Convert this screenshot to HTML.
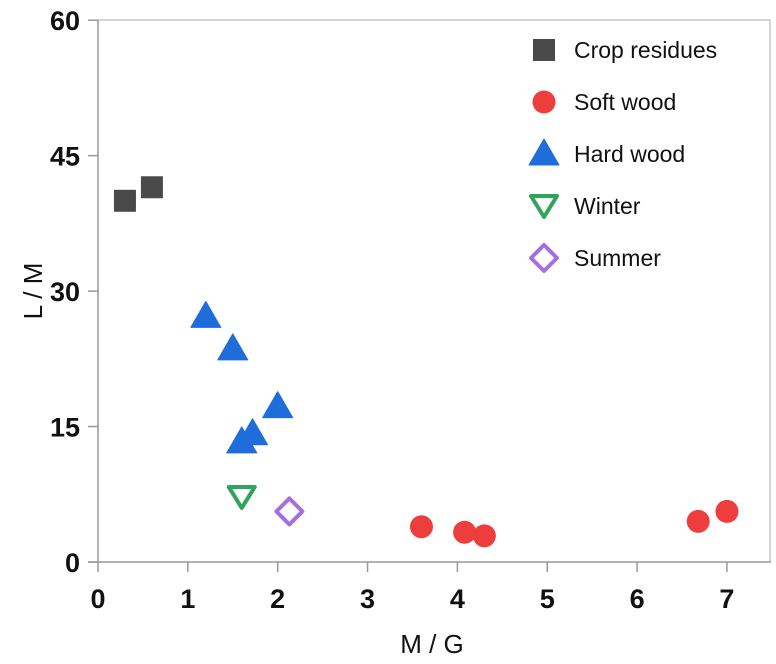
<!DOCTYPE html>
<html><head><meta charset="utf-8"><style>
html,body{margin:0;padding:0;background:#fff;}
svg{display:block;font-family:"Liberation Sans",Arial,sans-serif;}
</style></head><body>
<svg id="chart" width="776" height="664"></svg>
<script>
const xTicks=[0,1,2,3,4,5,6,7];
const yTicks=[0,15,30,45,60];
const cropX=[0.3,0.6], cropY=[40,41.5];
const softX=[3.6,4.08,4.3,6.68,7.0], softY=[3.9,3.3,2.9,4.5,5.6];
const hardX=[1.2,1.5,2.0,1.72,1.6], hardY=[27.2,23.6,17.2,14.2,13.3];
const winterX=[1.6], winterY=[7.2];
const summerX=[2.13], summerY=[5.6];
const legendLabels=["Crop residues","Soft wood","Hard wood","Winter","Summer"];

const NS="http://www.w3.org/2000/svg";
const svg=document.getElementById('chart');
const X0=98,XS=89.85,Y0=562,YS=9.03;
const sx=v=>X0+v*XS, sy=v=>Y0-v*YS;
function mk(t,a,p){const e=document.createElementNS(NS,t);for(const k in a)e.setAttribute(k,a[k]);(p||svg).appendChild(e);return e;}

let fr=mk('polyline',{points:`${X0},20 770,20 770,${Y0}`,fill:'none',stroke:'#bbb','stroke-width':1.2});


let ax=mk('line',{x1:X0,y1:20,x2:X0,y2:Y0,stroke:'#999','stroke-width':1.5});


let bx=mk('line',{x1:X0-10,y1:Y0,x2:771,y2:Y0,stroke:'#999','stroke-width':1.5});


xTicks.forEach(t=>{
  let l=mk('line',{x1:sx(t),y1:Y0,x2:sx(t),y2:Y0+10,stroke:'#999','stroke-width':1.5});
  
  
  let tx=mk('text',{x:sx(t),y:Y0+46,'text-anchor':'middle','font-size':27,'font-weight':'bold',fill:'#111'});
  tx.textContent=t;
  
  
});
yTicks.forEach(t=>{
  let l=mk('line',{x1:X0-10,y1:sy(t),x2:X0,y2:sy(t),stroke:'#999','stroke-width':1.5});
  
  
  let tx=mk('text',{x:X0-18,y:sy(t)+10,'text-anchor':'end','font-size':27,'font-weight':'bold',fill:'#111'});
  tx.textContent=t;
  
  
});
let xt=mk('text',{x:432,y:653,'text-anchor':'middle','font-size':26,fill:'#111'});
xt.textContent='M / G';


let yt=mk('text',{x:0,y:0,'text-anchor':'middle','font-size':26,fill:'#111',transform:'translate(42,291) rotate(-90)'});
yt.textContent='L / M';



function marker(kind,cx,cy){
  let e;
  if(kind==0) e=mk('rect',{x:cx-11,y:cy-11,width:22,height:22,fill:'#4a4a4a'});
  else if(kind==1) e=mk('circle',{cx:cx,cy:cy,r:11.5,fill:'#ee3d3d'});
  else if(kind==2) e=mk('polygon',{points:`${cx},${cy-15} ${cx-15},${cy+11} ${cx+15},${cy+11}`,fill:'#1f6ddb',stroke:'#1f6ddb','stroke-width':1,'stroke-linejoin':'round'});
  else if(kind==3) e=mk('polygon',{points:`${cx-13},${cy-10} ${cx+13},${cy-10} ${cx},${cy+11}`,fill:'none',stroke:'#2ea55c','stroke-width':4,'stroke-linejoin':'round'});
  else e=mk('polygon',{points:`${cx},${cy-13} ${cx+13},${cy} ${cx},${cy+13} ${cx-13},${cy}`,fill:'none',stroke:'#a66fe0','stroke-width':4,'stroke-linejoin':'round'});
  return e;
}
const series=[[cropX,cropY],[softX,softY],[hardX,hardY],[winterX,winterY],[summerX,summerY]];
const names=['crop-residues-point','soft-wood-point','hard-wood-point','winter-point','summer-point'];
series.forEach((s,k)=>{
  s[0].forEach((v,i)=>{
    let m=marker(k,sx(v),sy(s[1][i]));
    
    
  });
});
legendLabels.forEach((lab,i)=>{
  const cy=50+i*52;
  let m=marker(i,544,cy);
  
  
  let t=mk('text',{x:574,y:cy+8,'font-size':23,fill:'#111'});
  t.textContent=lab;
  
  
});
</script>
</body></html>
